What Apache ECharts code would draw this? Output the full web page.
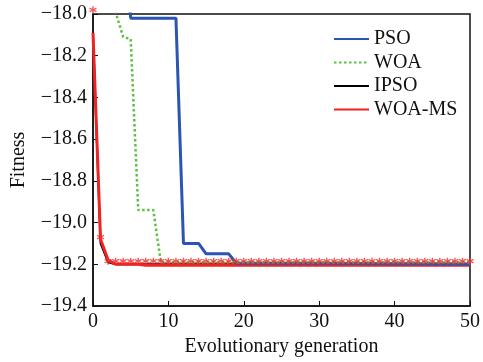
<!DOCTYPE html>
<html>
<head>
<meta charset="utf-8">
<script src="https://cdn.jsdelivr.net/npm/echarts@6/dist/echarts.min.js"></script>
<style>
  html, body { margin: 0; padding: 0; background: #fff; }
  #chart { width: 483px; height: 362px; }
</style>
</head>
<body>
<div id="chart"></div>
<script>
// values (generation, fitness)
const psoGen = [0, 4, 5, 11, 12, 14, 15, 18, 19, 30, 50];
const psoFit = [-17.6, -17.6, -18.02, -18.02, -19.10, -19.10, -19.15, -19.15, -19.195, -19.195, -19.2];

const woaGen = [0, 2, 3, 4, 5, 6, 8, 9, 50];
const woaFit = [-17.8, -17.9, -17.99, -18.11, -18.12, -18.94, -18.94, -19.19, -19.19];

const ipsoGen = [0, 1, 2, 3, 50];
const ipsoFit = [-18.1, -19.1, -19.19, -19.2, -19.2];

const msGen = [0, 1, 2, 3, 6, 7, 50];
const msFit = [-18.09, -19.08, -19.18, -19.2, -19.2, -19.205, -19.205];

// asterisk markers drawn along the WOA-MS run, one per generation
const starGen = [0, 1, 2, 3, 4, 5, 6, 7, 8, 9, 10, 11, 12, 13, 14, 15, 16, 17, 18, 19, 20,
  21, 22, 23, 24, 25, 26, 27, 28, 29, 30, 31, 32, 33, 34, 35, 36, 37, 38, 39, 40,
  41, 42, 43, 44, 45, 46, 47, 48, 49, 50];
const starFit = [-17.98, -19.07, -19.185, -19.185, -19.185, -19.185, -19.185, -19.185, -19.185, -19.185, -19.185,
  -19.185, -19.185, -19.185, -19.185, -19.185, -19.185, -19.185, -19.185, -19.185, -19.185,
  -19.185, -19.185, -19.185, -19.185, -19.185, -19.185, -19.185, -19.185, -19.185, -19.185,
  -19.185, -19.185, -19.185, -19.185, -19.185, -19.185, -19.185, -19.185, -19.185, -19.185,
  -19.185, -19.185, -19.185, -19.185, -19.185, -19.185, -19.185, -19.185, -19.185, -19.185];

const xTicks = [0, 10, 20, 30, 40, 50];
const yTicks = [-19.4, -19.2, -19.0, -18.8, -18.6, -18.4, -18.2, -18.0];

const serif = "'Liberation Serif', 'Times New Roman', serif";
const zip = (g, f) => g.map((x, i) => [x, f[i]]);

const chart = echarts.init(document.getElementById('chart'));
chart.setOption({
  animation: false,
  backgroundColor: '#fff',
  grid: {
    left: 93, right: 10, top: 14, bottom: 54,
    show: true, borderColor: '#111', borderWidth: 1.5,
  },
  legend: {
    data: ['PSO', 'WOA', 'IPSO', 'WOA-MS'],
    orient: 'vertical',
    left: 328, top: 24,
    itemWidth: 35, itemHeight: 10, itemGap: 3.5,
    itemStyle: { opacity: 0 },
    textStyle: { fontFamily: serif, fontSize: 20, color: '#111' },
  },
  xAxis: {
    type: 'value',
    min: xTicks[0], max: xTicks[xTicks.length - 1], interval: 10,
    name: 'Evolutionary generation',
    nameLocation: 'middle', nameGap: 31,
    nameTextStyle: { fontFamily: serif, fontSize: 20, color: '#111' },
    axisLine: { lineStyle: { color: '#111', width: 1.5 } },
    axisTick: { inside: true, length: 5, lineStyle: { color: '#111' } },
    axisLabel: { fontFamily: serif, fontSize: 20, color: '#111', margin: 6 },
    splitLine: { show: false },
  },
  yAxis: {
    type: 'value',
    min: yTicks[0], max: yTicks[yTicks.length - 1], interval: 0.2,
    name: 'Fitness',
    nameLocation: 'middle', nameGap: 64,
    nameTextStyle: { fontFamily: serif, fontSize: 20, color: '#111' },
    axisLine: { lineStyle: { color: '#111', width: 1.5 } },
    axisTick: { inside: true, length: 5, lineStyle: { color: '#111' } },
    axisLabel: {
      fontFamily: serif, fontSize: 20, color: '#111', margin: 6,
      formatter: v => v.toFixed(1).replace('-', '\u2212'),
    },
    splitLine: { show: false },
  },
  series: [
    {
      name: 'IPSO', type: 'line', symbol: 'none',
      data: zip(ipsoGen, ipsoFit),
      lineStyle: { color: '#000', width: 2 }, itemStyle: { color: '#000' },
    },
    {
      name: 'WOA-MS', type: 'line', symbol: 'none',
      data: zip(msGen, msFit),
      lineStyle: { color: '#f02323', width: 3 }, itemStyle: { color: '#f02323' },
    },
    {
      name: 'PSO', type: 'line', symbol: 'none',
      data: zip(psoGen, psoFit),
      lineStyle: { color: '#2a55b0', width: 3 }, itemStyle: { color: '#2a55b0' },
    },
    {
      name: 'WOA', type: 'line', symbol: 'none',
      data: zip(woaGen, woaFit),
      lineStyle: { color: '#5cc043', width: 2.5, type: [2.5, 2.5] }, itemStyle: { color: '#5cc043' },
    },
    {
      name: 'stars', type: 'scatter',
      data: zip(starGen, starFit),
      clip: false,
      symbol: 'path://M5 0L5 10M0.7 2.5L9.3 7.5M0.7 7.5L9.3 2.5',
      symbolSize: 7,
      itemStyle: { color: 'rgba(0,0,0,0)', borderColor: '#ee3030', borderWidth: 1.4 },
      z: 5,
    },
  ],
});
</script>
</body>
</html>
